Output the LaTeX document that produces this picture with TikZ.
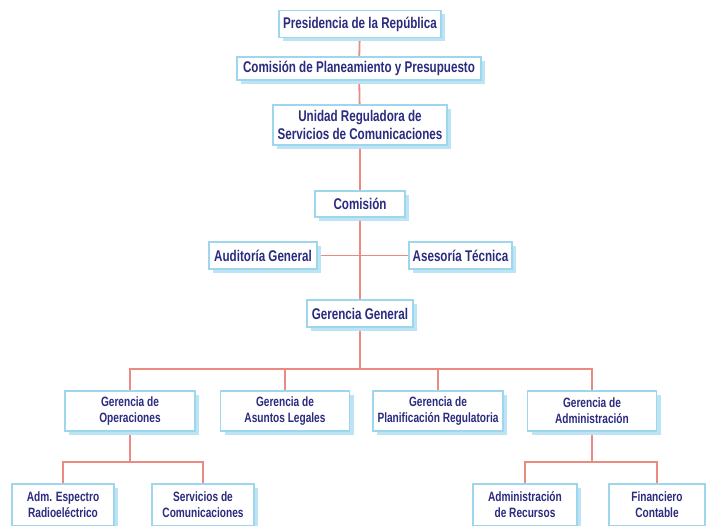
\documentclass[tikz,border=0pt]{standalone}
\usepackage{fontspec}
\setmainfont{Liberation Sans}[FakeStretch=0.75]
\usetikzlibrary{shadows,backgrounds}
\definecolor{txtblue}{HTML}{2B2B80}
\definecolor{edgeblue}{HTML}{9ED6EE}
\definecolor{shadblue}{HTML}{BCE4F4}
\definecolor{linered}{HTML}{EB8A82}
\tikzset{
  orgbox/.style={draw=edgeblue, line width=1.4pt, fill=white, text=txtblue,
    font=\bfseries, inner sep=1pt, align=center,
    drop shadow={shadow xshift=4pt, shadow yshift=-4pt, fill=shadblue, opacity=1}},
  upper/.style={orgbox, font=\fontsize{15.5}{18}\selectfont\bfseries},
  lower/.style={orgbox, font=\fontsize{13.5}{16}\selectfont\bfseries},
  conn/.style={draw=linered, line width=1.8pt}
}
\begin{document}
\begin{tikzpicture}[x=1pt,y=-1pt]
\useasboundingbox (0,0) rectangle (706,526);
\node[upper, minimum width=162pt, minimum height=27pt] (pres) at (360,24) {Presidencia de la República};
\node[upper, minimum width=244pt, minimum height=23pt] (cpp) at (359,68.5) {Comisión de Planeamiento y Presupuesto};
\node[upper, minimum width=174pt, minimum height=40pt] (urs) at (360,125) {Unidad Reguladora de\\Servicios de Comunicaciones};
\node[upper, minimum width=90pt, minimum height=26pt] (com) at (360,204) {Comisión};
\node[upper, minimum width=108pt, minimum height=27pt] (aud) at (263,255.5) {Auditoría General};
\node[upper, minimum width=103pt, minimum height=27pt] (ase) at (460.5,255.5) {Asesoría Técnica};
\node[upper, minimum width=106pt, minimum height=27pt] (gg) at (360,313.5) {Gerencia General};
\node[lower, minimum width=130pt, minimum height=40pt] (gop) at (130,411) {Gerencia de\\Operaciones};
\node[lower, minimum width=129pt, minimum height=40pt] (gal) at (285,411) {Gerencia de\\Asuntos Legales};
\node[lower, minimum width=130pt, minimum height=40pt] (gpr) at (438,411) {Gerencia de\\Planificación Regulatoria};
\node[lower, minimum width=129pt, minimum height=40pt] (gad) at (592,411) {Gerencia de\\Administración};
\node[lower, minimum width=102pt, minimum height=42pt] (aer) at (63,505) {Adm. Espectro\\Radioeléctrico};
\node[lower, minimum width=102pt, minimum height=42pt] (sco) at (203,505) {Servicios de\\Comunicaciones};
\node[lower, minimum width=104pt, minimum height=42pt] (adr) at (525,505) {Administración\\de Recursos};
\node[lower, minimum width=96pt, minimum height=42pt] (fco) at (657,505) {Financiero\\Contable};
\coordinate (bus) at (0,369);
\coordinate (subbus) at (0,462);
\begin{scope}[on background layer]
\draw[conn] (pres) -- (cpp);
\draw[conn] (cpp) -- (urs);
\draw[conn] (urs) -- (com);
\draw[conn] (com) -- (gg);
\draw[conn] (aud.east) -- (ase.west);
\draw[conn] (gg.south) -- (gg.south |- bus);
\draw[conn] (gop.north) -- (gop.north |- bus) -- (gad.north |- bus) -- (gad.north);
\draw[conn] (gal.north) -- (gal.north |- bus);
\draw[conn] (gpr.north) -- (gpr.north |- bus);
\draw[conn] (gop.south) -- (gop.south |- subbus);
\draw[conn] (aer.north) -- (aer.north |- subbus) -- (sco.north |- subbus) -- (sco.north);
\draw[conn] (gad.south) -- (gad.south |- subbus);
\draw[conn] (adr.north) -- (adr.north |- subbus) -- (fco.north |- subbus) -- (fco.north);
\end{scope}
\end{tikzpicture}
\end{document}
